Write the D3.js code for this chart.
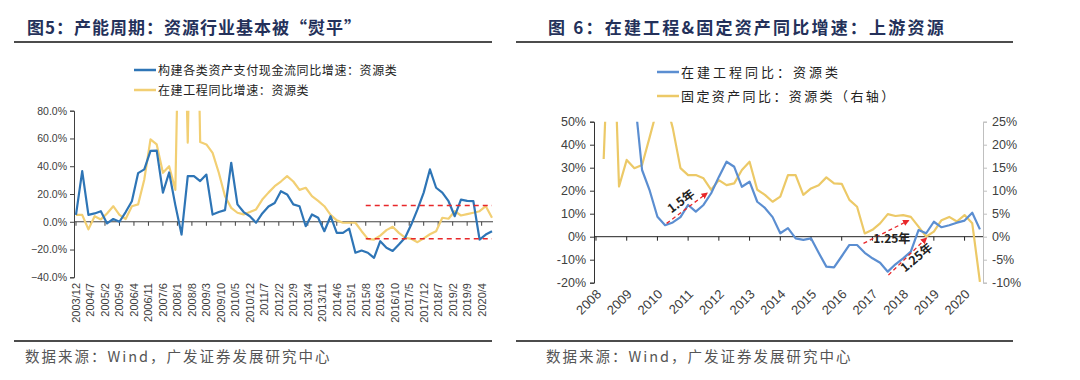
<!DOCTYPE html>
<html>
<head>
<meta charset="utf-8">
<script src="https://cdn.jsdelivr.net/npm/d3@7/dist/d3.min.js"></script>
<style>
    body { margin: 0; background: #fff; }
    svg text { font-family: "Liberation Sans", Arial, sans-serif; fill: #404040; }
    svg text.cn { font-family: "Noto Sans CJK SC", sans-serif; }
</style>
</head>
<body>
<svg id="chart" width="1080" height="380"></svg>
<script>
// ---- left panel (fig 5): quarterly, 2003/12 .. 2020/9 ----
const leftTickLabels = ['2003/12', '2004/7', '2005/2', '2005/9', '2006/4', '2006/11', '2007/6',
    '2008/1', '2008/8', '2009/3', '2009/10', '2010/5', '2010/12', '2011/7', '2012/2', '2012/9',
    '2013/4', '2013/11', '2014/6', '2015/1', '2015/8', '2016/3', '2016/10', '2017/5', '2017/12',
    '2018/7', '2019/2', '2019/9', '2020/4'];
const leftYTicks = [80, 60, 40, 20, 0, -20, -40];

// 构建各类资产支付现金流同比增速：资源类 (%)
const cashFlowYoY = [5, 36.5, 5, 6, 7.6, -1.2, 2, 0, 7, 14.8, 35, 37.7, 51, 51.3, 21, 35.5,
    12, -9.2, 32.9, 32.9, 29.3, 34, 5.2, 7, 8.4, 42.5, 12.5, 7, 4, -0.7, 6, 11,
    13.5, 22, 19.7, 12.5, 11.2, -3.2, 5.3, 2.9, -6.8, 4, -8, -8, -5, -22.3, -20.7, -22.3,
    -26, -14, -18.7, -21, -16.4, -11.5, -2, 8.9, 21, 37.7, 24.5, 21, 14.8, 4, 16, 15,
    14.8, -12.8, -9.2, -6.8];

// 在建工程同比增速：资源类 (%)
const leftCipYoY = [5, 5, -5.5, 4, 1.7, 6, 11.2, 5, 2, 11.2, 12.5, 30.5, 59.3, 55.7, 35.3, 40,
    23, 250, 57, 300, 57.4, 55.7, 49.6, 35.3, 18.4, 10, 6.5, 5.3, 7, 8.9, 16, 21,
    25.6, 29, 32.9, 29, 23, 24.5, 18.4, 15, 11.2, 5, 1, -0.7, -0.7, -0.7, -6.8, -12.3,
    -12.8, -10, -6, -3.6, -8, -11.5, -12.3, -14.7, -12, -9, -6.8, 2.9, 2.2, 7.6, 4.5, 5.5,
    6.5, 7.6, 11.2, 2.9];

// red dashed band, from 2015/8 to the end
const leftBandLevels = [11.7, -12.3];
const leftBandStart = '2015/8';

// ---- right panel (fig 6): quarter ends ----
const rightYears = d3.range(2008, 2021);
const rightLeftTicks = [50, 40, 30, 20, 10, 0, -10, -20];
const rightRightTicks = [25, 20, 15, 10, 5, 0, -5, -10];

// 在建工程同比：资源类 (%), from 2009-03
const rightCipStart = [2009, 3];
const rightCipYoY = [62, 29, 20, 8.7, 5, 6.2, 8.5, 13.8, 10.9, 13.8, 18.9, 26, 32.6, 30.4, 21.7, 23.9,
    15.2, 12.5, 8.5, 1.5, 3.7, -0.7, -1.4, -0.7, -7, -13, -13.3, -8.5, -3.6, -3.6, -7, -9.4,
    -11.3, -15.2, -12, -9.4, -6.5, 2.9, 1.5, 6.5, 4.1, 5, 6.1, 7, 10.4, 3.2];

// 固定资产同比：资源类（右轴）(%), from 2008-03
const fixedAssetStart = [2008, 3];
const fixedAssetYoY = [16.9, 60, 10.9, 16.7, 14.9, 15.6, 21.7, 28, 30, 23.6, 14.9, 13.4, 13.4, 12.7, 10.2, 12.3,
    11.2, 11.6, 14.5, 16.3, 10.2, 9.1, 7.6, 8.7, 13.4, 13.4, 9.1, 10.5, 11.2, 12.9, 11.6, 11.5,
    8, 6.5, 0.7, 1.5, 2.9, 4.9, 4.5, 4.7, 4.3, 2.2, 0, 1.1, 3.6, 4.3, 3.3, 4.7, 2.9, -9.8];

// lead/lag arrows, in decimal years and left-axis %
const rightArrows = [
    { from: [2010.30, 5.8], to: [2011.61, 18.9], label: '1.5年', at: [2010.85, 14], rotate: -37 },
    { from: [2016.71, -2.9], to: [2018.17, 7], label: '1.25年', at: [2017.63, -2.6], rotate: 0 },
    { from: [2017.52, -16.7], to: [2018.75, -0.7], label: '1.25年', at: [2018.52, -10.5], rotate: -40 }
];

const BLUE_L = '#2e75b6';
const YELLOW_L = '#f2cf73';
const BLUE_R = '#5b8ed1';
const YELLOW_R = '#ecc967';
const RED = '#e8272a';
const TITLE = '#24315a';

const svg = d3.select('#chart');
svg.append('rect').attr('width', 1080).attr('height', 380).attr('fill', '#fff');

const defs = svg.append('defs');
defs.append('marker')
    .attr('id', 'arrowHead')
    .attr('viewBox', '0 0 10 10')
    .attr('refX', 8).attr('refY', 5)
    .attr('markerWidth', 5).attr('markerHeight', 5)
    .attr('orient', 'auto')
    .append('path')
    .attr('d', 'M0,0 L10,5 L0,10 z')
    .attr('fill', RED);

function drawFrame(x0, x1, lineStart, title, titleSpacing, source) {
    svg.append('text')
        .attr('class', 'cn')
        .attr('x', x0).attr('y', 34)
        .attr('font-size', 17).attr('font-weight', 700)
        .attr('letter-spacing', titleSpacing)
        .style('fill', TITLE)
        .text(title);
    [42, 341].forEach(y => {
        svg.append('line')
            .attr('x1', lineStart).attr('x2', x1)
            .attr('y1', y).attr('y2', y)
            .attr('stroke', '#111').attr('stroke-width', 1.5);
    });
    svg.append('text')
        .attr('class', 'cn')
        .attr('x', x0 - 2).attr('y', 362)
        .attr('font-size', 14.5).attr('letter-spacing', 2)
        .style('fill', '#555')
        .text(source);
}

function legendItem(g, x, y, color, label, size, spacing) {
    g.append('line')
        .attr('x1', x).attr('x2', x + 22)
        .attr('y1', y).attr('y2', y)
        .attr('stroke', color).attr('stroke-width', 2.5);
    g.append('text')
        .attr('class', 'cn')
        .attr('x', x + 24).attr('y', y + 4.5)
        .attr('font-size', size).attr('letter-spacing', spacing)
        .style('fill', '#222')
        .text(label);
}

function monthIndex(label) {
    const [y, m] = label.split('/').map(Number);
    return (y - 2003) * 12 + m - 12;
}

function drawLeftChart() {
    const g = svg.append('g');
    const x = d3.scaleLinear().domain([0, 201]).range([76, 492]);
    const y = d3.scaleLinear().domain([-40, 80]).range([277.3, 110.7]);

    g.append('clipPath').attr('id', 'clipL')
        .append('rect').attr('x', 60).attr('y', y(80)).attr('width', 450).attr('height', 200);

    // y axis
    const yAxis = g.append('g')
        .attr('transform', 'translate(74,0)')
        .call(d3.axisLeft(y).tickValues(leftYTicks).tickSize(4)
            .tickFormat(d => d3.format('.1f')(d) + '%'));
    yAxis.select('.domain').attr('stroke', '#404040');
    yAxis.selectAll('.tick line').attr('stroke', '#404040');
    yAxis.selectAll('text').attr('font-size', 10.5).attr('x', -7);

    // x axis along zero
    const tickMonths = leftTickLabels.map(monthIndex);
    g.append('line')
        .attr('x1', 74).attr('x2', 493)
        .attr('y1', y(0)).attr('y2', y(0))
        .attr('stroke', '#404040');
    g.selectAll('.xtick').data(tickMonths).join('line')
        .attr('x1', d => x(d)).attr('x2', d => x(d))
        .attr('y1', y(0)).attr('y2', y(0) + 4)
        .attr('stroke', '#404040');
    g.selectAll('.xlab').data(leftTickLabels).join('text')
        .attr('transform', d => `translate(${x(monthIndex(d)) + 4},283) rotate(-90)`)
        .attr('text-anchor', 'end')
        .attr('font-size', 11)
        .text(d => d);

    const line = d3.line()
        .x((d, i) => x(i * 3))
        .y(d => y(d));

    const plot = g.append('g').attr('clip-path', 'url(#clipL)');
    plot.append('path').datum(leftCipYoY)
        .attr('d', line).attr('fill', 'none')
        .attr('stroke', YELLOW_L).attr('stroke-width', 2.2).attr('stroke-linejoin', 'round');
    plot.append('path').datum(cashFlowYoY)
        .attr('d', line).attr('fill', 'none')
        .attr('stroke', BLUE_L).attr('stroke-width', 2.2).attr('stroke-linejoin', 'round');

    g.selectAll('.band').data(leftBandLevels).join('line')
        .attr('x1', x(monthIndex(leftBandStart))).attr('x2', x(201))
        .attr('y1', d => y(d)).attr('y2', d => y(d))
        .attr('stroke', RED).attr('stroke-width', 1.5).attr('stroke-dasharray', '5,4');

    legendItem(g, 134, 70, BLUE_L, '构建各类资产支付现金流同比增速：资源类', 12, 0.6);
    legendItem(g, 134, 90, YELLOW_L, '在建工程同比增速：资源类', 12, 0.6);
}

function quarterTimes(start, n) {
    return d3.range(n).map(i => {
        const m = start[1] + i * 3;
        return start[0] + m / 12;
    });
}

function drawRightChart() {
    const g = svg.append('g');
    const x = d3.scaleLinear().domain([2007.935, 2020.6]).range([594, 983]);
    const yL = d3.scaleLinear().domain([-20, 50]).range([282.7, 121.7]);
    const yR = d3.scaleLinear().domain([-10, 25]).range([282.7, 121.7]);

    g.append('clipPath').attr('id', 'clipR')
        .append('rect').attr('x', 580).attr('y', yL(50)).attr('width', 420).attr('height', 200);

    const axL = g.append('g')
        .attr('transform', 'translate(594,0)')
        .call(d3.axisLeft(yL).tickValues(rightLeftTicks).tickSize(4).tickFormat(d => d + '%'));
    axL.select('.domain').attr('stroke', '#333');
    axL.selectAll('.tick line').attr('stroke', '#333');
    axL.selectAll('text').attr('font-size', 12.5).attr('x', -8);

    const axR = g.append('g')
        .attr('transform', 'translate(983,0)')
        .call(d3.axisRight(yR).tickValues(rightRightTicks).tickSize(4).tickFormat(d => d + '%'));
    axR.select('.domain').attr('stroke', '#bfbfbf');
    axR.selectAll('.tick line').attr('stroke', '#bfbfbf');
    axR.selectAll('text').attr('font-size', 12.5).attr('x', 9);

    g.append('line')
        .attr('x1', 594).attr('x2', 983)
        .attr('y1', yL(0)).attr('y2', yL(0))
        .attr('stroke', '#222');
    g.selectAll('.ytick').data(rightYears).join('line')
        .attr('x1', d => x(d)).attr('x2', d => x(d))
        .attr('y1', yL(0)).attr('y2', yL(0) + 4)
        .attr('stroke', '#222');
    g.selectAll('.ylab').data(rightYears).join('text')
        .attr('transform', d => `translate(${x(d) + 6},295) rotate(-45)`)
        .attr('text-anchor', 'end')
        .attr('font-size', 13)
        .text(d => d);

    const plot = g.append('g').attr('clip-path', 'url(#clipR)');
    const faT = quarterTimes(fixedAssetStart, fixedAssetYoY.length);
    plot.append('path').datum(fixedAssetYoY)
        .attr('d', d3.line().x((d, i) => x(faT[i])).y(d => yR(d)))
        .attr('fill', 'none').attr('stroke', YELLOW_R).attr('stroke-width', 2.2)
        .attr('stroke-linejoin', 'round');
    const cipT = quarterTimes(rightCipStart, rightCipYoY.length);
    plot.append('path').datum(rightCipYoY)
        .attr('d', d3.line().x((d, i) => x(cipT[i])).y(d => yL(d)))
        .attr('fill', 'none').attr('stroke', BLUE_R).attr('stroke-width', 2.2)
        .attr('stroke-linejoin', 'round');

    rightArrows.forEach(a => {
        g.append('line')
            .attr('x1', x(a.from[0])).attr('y1', yL(a.from[1]))
            .attr('x2', x(a.to[0])).attr('y2', yL(a.to[1]))
            .attr('stroke', RED).attr('stroke-width', 1.3)
            .attr('stroke-dasharray', '4,3')
            .attr('marker-end', 'url(#arrowHead)');
        g.append('text')
            .attr('class', 'cn')
            .attr('transform', `translate(${x(a.at[0])},${yL(a.at[1])}) rotate(${a.rotate})`)
            .attr('text-anchor', 'middle')
            .attr('font-size', 12).attr('font-weight', 700)
            .style('fill', '#222')
            .text(a.label);
    });

    legendItem(g, 657, 72, BLUE_R, '在建工程同比：资源类', 13, 3);
    legendItem(g, 657, 96, YELLOW_R, '固定资产同比：资源类（右轴）', 13, 2.4);
}

drawFrame(27, 492, 14, '图5：产能周期：资源行业基本被“熨平”', 1, '数据来源：Wind，广发证券发展研究中心');
drawFrame(548, 1013, 516, '图 6：在建工程&固定资产同比增速：上游资源', 2.2, '数据来源：Wind，广发证券发展研究中心');
drawLeftChart();
drawRightChart();
</script>
</body>
</html>
